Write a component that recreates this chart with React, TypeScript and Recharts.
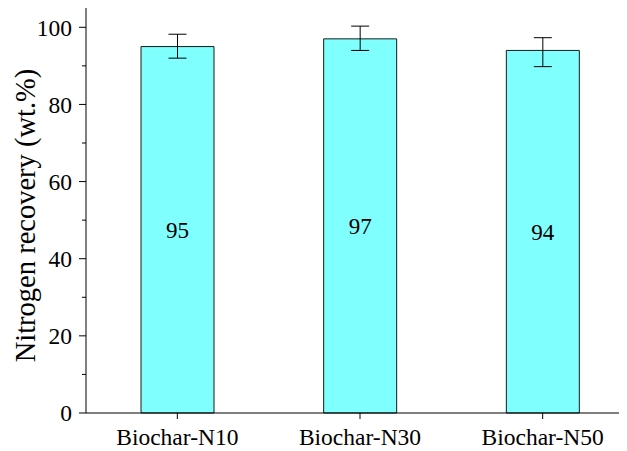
import React from 'react'
import { BarChart, Bar, XAxis, YAxis, ErrorBar, LabelList } from 'recharts'

const SAMPLES = ['Biochar-N10', 'Biochar-N30', 'Biochar-N50']
const RECOVERY = [95, 97, 94]
// [below, above] error extents
const ERRORS = [
  [3.0, 3.2],
  [3.0, 3.3],
  [4.2, 3.3],
]
const Y_TICKS = [0, 10, 20, 30, 40, 50, 60, 70, 80, 90, 100]

const FONT = 'Liberation Serif'

const data = SAMPLES.map((name, i) => ({ name, value: RECOVERY[i], err: ERRORS[i] }))

// major ticks every 20 with labels, unlabelled minor ticks in between
function YTick(props: any) {
  const { x, y, payload } = props
  const major = payload.value % 20 === 0
  const axisX = x + 14
  return (
    <g>
      <line x1={axisX} x2={axisX - (major ? 7 : 4)} y1={y} y2={y} stroke="#000" strokeWidth={1} />
      {major && (
        <text x={x} y={y} dy="0.35em" textAnchor="end" fontSize={23.5} fontFamily={FONT} fill="#000">
          {payload.value}
        </text>
      )}
    </g>
  )
}

function XTick(props: any) {
  const { x, y, payload } = props
  return (
    <text x={x} y={y} dy="0.8em" textAnchor="middle" fontSize={23.5} fontFamily={FONT} fill="#000">
      {payload.value}
    </text>
  )
}

export default function App() {
  return (
    <div
      style={{
        marginLeft: -8,
        marginTop: -8,
        width: 627,
        height: 451,
        overflow: 'hidden',
        background: '#fff',
        fontFamily: FONT,
      }}
    >
      <BarChart
        width={634}
        height={451}
        data={data}
        margin={{ top: 8, right: 0, left: 0, bottom: 0 }}
        barSize={73}
      >
        <XAxis
          dataKey="name"
          height={38}
          stroke="#000"
          tickSize={6}
          tickMargin={7}
          tick={<XTick />}
        />
        <XAxis xAxisId="top" orientation="top" dataKey="name" height={0} tick={false} tickLine={false} stroke="#000" />
        <YAxis
          width={86}
          domain={[0, 105]}
          ticks={Y_TICKS}
          interval={0}
          stroke="#000"
          tickSize={7}
          tickMargin={7}
          tickLine={false}
          tick={<YTick />}
          label={{
            value: 'Nitrogen recovery (wt.%)',
            angle: -90,
            position: 'insideLeft',
            offset: 25,
            dy: 5,
            style: { textAnchor: 'middle', fontSize: 28.5, fontFamily: FONT, fill: '#000' },
          }}
        />
        <Bar dataKey="value" fill="#80ffff" stroke="#1a1a1a" strokeWidth={1} isAnimationActive={false}>
          <ErrorBar dataKey="err" width={9} stroke="#000" strokeWidth={1} />
          <LabelList dataKey="value" position="center" fill="#000" fontSize={23} fontFamily={FONT} />
        </Bar>
      </BarChart>
    </div>
  )
}
